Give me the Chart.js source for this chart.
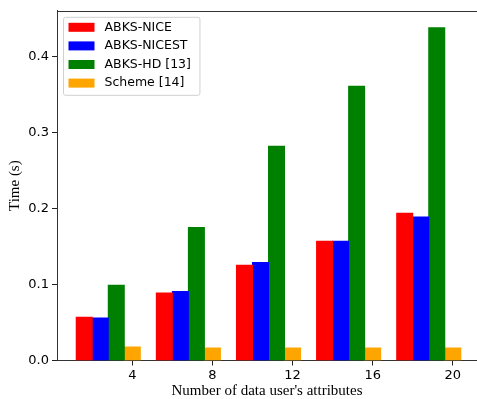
<!DOCTYPE html>
<html>
<head>
<meta charset="utf-8">
<script src="https://cdn.jsdelivr.net/npm/chart.js@4.4.0/dist/chart.umd.min.js"></script>
<style>
  html, body { margin: 0; padding: 0; background: #fff; overflow: hidden; }
  #wrap { width: 477px; height: 399px; position: relative; }
</style>
</head>
<body>
<div id="wrap"><canvas id="c" width="477" height="399"></canvas></div>
<script>
// ---- data ----
const categories = [4, 8, 12, 16, 20];
const seriesNames = ['ABKS-NICE', 'ABKS-NICEST', 'ABKS-HD [13]', 'Scheme [14]'];
const abksNice   = [0.057, 0.089, 0.1255, 0.157, 0.194];
const abksNicest = [0.056, 0.091, 0.129, 0.157, 0.189];
const abksHd     = [0.099, 0.175, 0.282, 0.361, 0.438];
const scheme14   = [0.0177, 0.0164, 0.0164, 0.0164, 0.0164];
const yTicks = [0, 0.1, 0.2, 0.3, 0.4];
const colors = ['#ff0000', '#0000ff', '#008000', '#ffa500'];

// group of 4 bars ends centred on the tick (matplotlib-style layout)
const GROUP_SHIFT = 1.2;
const seriesValues = [abksNice, abksNicest, abksHd, scheme14];

const datasets = seriesValues.map((vals, i) => ({
  label: seriesNames[i],
  data: categories.map((c, j) => ({ x: c - GROUP_SHIFT, y: vals[j] })),
  backgroundColor: colors[i],
  borderWidth: 0,
  inflateAmount: 0.5,
  barPercentage: 1.0,
  categoryPercentage: 0.8
}));

const tickFont = { family: 'DejaVu Sans', size: 13 };
const titleFont = { family: 'Liberation Serif', size: 15, lineHeight: 1.0 };

const frame = {
  id: 'frame',
  afterDraw(chart) {
    const { ctx, chartArea: a } = chart;
    ctx.save();
    ctx.strokeStyle = '#333';
    ctx.lineWidth = 1;
    ctx.beginPath();
    ctx.moveTo(a.left, Math.round(a.top) + 0.5);
    ctx.lineTo(a.right, Math.round(a.top) + 0.5);
    ctx.stroke();

    // legend
    const bx = a.left + 6.5, by = a.top + 6.5;
    ctx.font = '12.5px "DejaVu Sans"';
    let maxW = 0;
    chart.data.datasets.forEach(d => { maxW = Math.max(maxW, ctx.measureText(d.label).width); });
    const bw = 41 + maxW + 9, bh = 78;
    ctx.strokeStyle = '#d0d0d0';
    ctx.fillStyle = 'rgba(255,255,255,0.8)';
    ctx.beginPath();
    ctx.roundRect(bx, by, bw, bh, 2);
    ctx.fill();
    ctx.stroke();
    ctx.textBaseline = 'middle';
    chart.data.datasets.forEach((d, i) => {
      const cy = by + 10 + i * 18.6;
      ctx.fillStyle = d.backgroundColor;
      ctx.fillRect(bx + 5, cy - 4.5, 26, 9);
      ctx.fillStyle = '#000';
      ctx.fillText(d.label, bx + 41, cy);
    });
    ctx.restore();
  }
};

new Chart(document.getElementById('c'), {
  type: 'bar',
  data: { datasets },
  options: {
    responsive: false,
    animation: false,
    layout: { padding: { top: 10, left: 0, right: 0, bottom: 0 } },
    plugins: { legend: { display: false }, tooltip: { enabled: false } },
    scales: {
      x: {
        type: 'linear',
        min: 0.24,
        max: 21.21,
        offset: false,
        afterFit(s) { s.height = 38.5; },
        afterBuildTicks(s) { s.ticks = categories.map(v => ({ value: v })); },
        grid: { offset: false, drawOnChartArea: false, drawTicks: true, tickLength: 5, color: '#222' },
        border: { display: true, color: '#333', width: 1 },
        ticks: { font: tickFont, color: '#000', padding: 2, maxRotation: 0,
                 callback: v => String(v) },
        title: { display: true, text: "Number of data user's attributes", font: titleFont,
                 color: '#000', padding: { top: 0, bottom: 0 } }
      },
      y: {
        min: 0,
        max: 0.4604,
        afterFit(s) { s.width = 57; },
        afterBuildTicks(s) { s.ticks = yTicks.map(v => ({ value: v })); },
        grid: { drawOnChartArea: false, drawTicks: true, tickLength: 5, color: '#222' },
        border: { display: true, color: '#333', width: 1 },
        ticks: { font: tickFont, color: '#000', padding: 3,
                 callback: v => Number(v).toFixed(1) },
        title: { display: true, text: 'Time (s)', font: titleFont, color: '#000',
                 padding: { top: 7.5, bottom: 0 } }
      }
    }
  },
  plugins: [frame]
});
</script>
</body>
</html>
